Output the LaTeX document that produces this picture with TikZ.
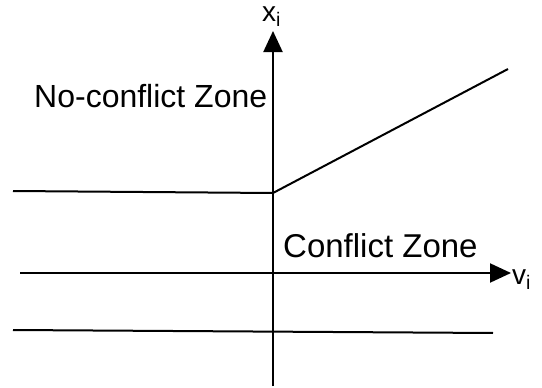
\documentclass[tikz,border=0pt]{standalone}
\usepackage{fontspec}
\setmainfont{Liberation Sans}
\usetikzlibrary{arrows.meta}
\begin{document}
\begin{tikzpicture}[x=1pt,y=-1pt,
  ln/.style={line width=2pt,black},
  ax/.style={line width=2pt,black,-{Triangle[length=21pt,width=19pt]}},
  zone/.style={font=\fontsize{32}{36}\selectfont,inner sep=0pt,anchor=base west},
  axlab/.style={font=\fontsize{28}{32}\selectfont,inner sep=0pt,anchor=base west}]
\useasboundingbox (0,0) rectangle (542,388);
\coordinate (vbot) at (273,386);
\coordinate (vtop) at (273,31);
\coordinate (hleft) at (20,273);
\coordinate (hright) at (511,273);
\coordinate (ul) at (13,191);
\coordinate (corner) at (273,193);
\coordinate (ur) at (508,69);
\coordinate (bl) at (13,330);
\coordinate (br) at (493,333);
\draw[ax] (vbot) -- (vtop);
\draw[ax] (hleft) -- (hright);
\draw[ln] (ul) -- (corner) -- (ur);
\draw[ln] (bl) -- (br);
\node[zone] (nc) at (34,107) {No-conflict Zone};
\node[zone,font=\fontsize{33}{36}\selectfont] (cz) at (283,257) {Conflict Zone};
\node[axlab] (xl) at (262,21) {x\textsubscript{i}};
\node[axlab] (vl) at (512,284) {v\textsubscript{i}};
\end{tikzpicture}
\end{document}
